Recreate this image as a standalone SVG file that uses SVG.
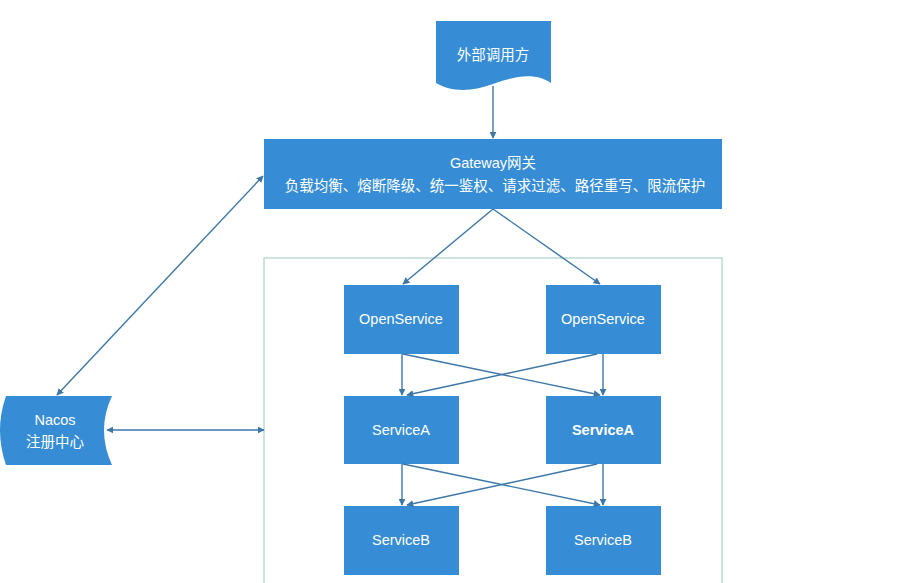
<svg xmlns="http://www.w3.org/2000/svg" width="919" height="583" viewBox="0 0 919 583">
<style>
.box{fill:#368dd6;}
.t{fill:#ffffff;font-family:"Liberation Sans","Noto Sans CJK SC",sans-serif;font-size:14.5px;text-anchor:middle;}
.conn line{stroke:#3c77a8;stroke-width:1.4;fill:none;}
.container{fill:none;stroke:#bcdcd2;stroke-width:1.5;}
</style>
<defs>
<marker id="ah" viewBox="0 0 10 10" refX="9" refY="5" markerWidth="7" markerHeight="7" orient="auto-start-reverse" markerUnits="userSpaceOnUse">
<path d="M0,0 L10,5 L0,10 Z" fill="#3c77a8"/>
</marker>
</defs>
<rect width="919" height="583" fill="#ffffff"/>
<rect class="container" x="264" y="258" width="458" height="345"/>
<g id="caller">
<path class="box" d="M436,21 H551 V83 C535,72 515,76 493,84 C471,92 451,92 436,83 Z"/>
<text class="t" x="493" y="60" font-size="14">外部调用方</text>
</g>
<g id="gateway">
<rect class="box" x="264" y="139" width="458" height="70"/>
<text class="t" x="493" y="168">Gateway网关</text>
<text class="t" x="495" y="191" font-size="15">负载均衡、熔断降级、统一鉴权、请求过滤、路径重写、限流保护</text>
</g>
<g id="nacos">
<path class="box" d="M6,396 H112 Q96,430 112,465 H6 Q-6,430 6,396 Z"/>
<text class="t" x="55" y="425">Nacos</text>
<text class="t" x="55" y="447">注册中心</text>
</g>
<g id="open1"><rect class="box" x="344" y="285" width="115" height="69"/><text class="t" x="401" y="324">OpenService</text></g>
<g id="open2"><rect class="box" x="546" y="285" width="115" height="69"/><text class="t" x="603" y="324">OpenService</text></g>
<g id="serviceA1"><rect class="box" x="344" y="396" width="115" height="68"/><text class="t" x="401" y="435">ServiceA</text></g>
<g id="serviceA2"><rect class="box" x="546" y="396" width="115" height="68"/><text class="t" x="603" y="435" font-weight="bold">ServiceA</text></g>
<g id="serviceB1"><rect class="box" x="344" y="506" width="115" height="69"/><text class="t" x="401" y="545">ServiceB</text></g>
<g id="serviceB2"><rect class="box" x="546" y="506" width="115" height="69"/><text class="t" x="603" y="545">ServiceB</text></g>
<g class="conn" id="connectors">
<line x1="493" y1="86" x2="493" y2="138" marker-end="url(#ah)"/>
<line x1="57" y1="395" x2="263" y2="176" marker-start="url(#ah)" marker-end="url(#ah)"/>
<line x1="107" y1="430" x2="264" y2="430" marker-start="url(#ah)" marker-end="url(#ah)"/>
<line x1="493" y1="209" x2="403" y2="284" marker-end="url(#ah)"/>
<line x1="493" y1="209" x2="600" y2="284" marker-end="url(#ah)"/>
<line x1="402" y1="354" x2="402" y2="395" marker-end="url(#ah)"/>
<line x1="603" y1="354" x2="603" y2="395" marker-end="url(#ah)"/>
<line x1="403" y1="354" x2="600" y2="395" marker-end="url(#ah)"/>
<line x1="597" y1="354" x2="407" y2="395" marker-end="url(#ah)"/>
<line x1="402" y1="464" x2="402" y2="505" marker-end="url(#ah)"/>
<line x1="603" y1="464" x2="603" y2="505" marker-end="url(#ah)"/>
<line x1="403" y1="464" x2="600" y2="505" marker-end="url(#ah)"/>
<line x1="597" y1="464" x2="407" y2="505" marker-end="url(#ah)"/>
</g>
</svg>
